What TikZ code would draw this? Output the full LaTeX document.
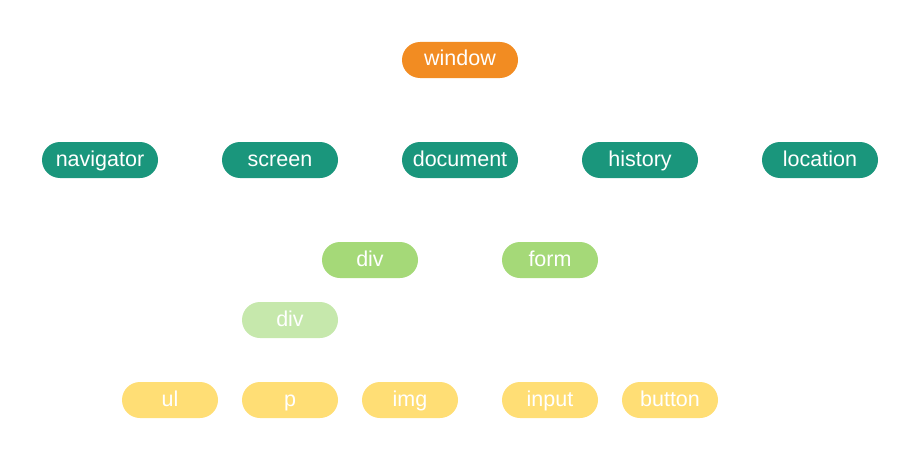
\documentclass[tikz,border=0pt]{standalone}
\usepackage{fontspec}
\setmainfont{Liberation Sans}
\definecolor{cwin}{HTML}{F28C22}
\definecolor{cteal}{HTML}{1A967C}
\definecolor{cgreen}{HTML}{A5D978}
\definecolor{clight}{HTML}{C6E8AC}
\definecolor{cyel}{HTML}{FFDE75}
\tikzset{
  pill/.style={rectangle, rounded corners=18pt, minimum height=36pt, inner sep=0pt, text height=15pt, text depth=3pt, text=white, font=\fontsize{21.5}{24}\selectfont},
  wide/.style={pill, minimum width=116pt},
  narrow/.style={pill, minimum width=96pt},
}
\begin{document}
\begin{tikzpicture}[x=1pt,y=-1pt]
\useasboundingbox (0,0) rectangle (920,460);
\node[wide, fill=cwin] (window) at (460,60) {window};
\node[wide, fill=cteal] (navigator) at (100,160) {navigator};
\node[wide, fill=cteal] (screen) at (280,160) {screen};
\node[wide, fill=cteal] (document) at (460,160) {document};
\node[wide, fill=cteal] (history) at (640,160) {history};
\node[wide, fill=cteal] (location) at (820,160) {location};
\node[narrow, fill=cgreen] (div1) at (370,260) {div};
\node[narrow, fill=cgreen] (form) at (550,260) {form};
\node[narrow, fill=clight] (div2) at (290,320) {div};
\node[narrow, fill=cyel] (ul) at (170,400) {ul};
\node[narrow, fill=cyel] (p) at (290,400) {p};
\node[narrow, fill=cyel] (img) at (410,400) {img};
\node[narrow, fill=cyel] (input) at (550,400) {input};
\node[narrow, fill=cyel] (button) at (670,400) {button};
\end{tikzpicture}
\end{document}
